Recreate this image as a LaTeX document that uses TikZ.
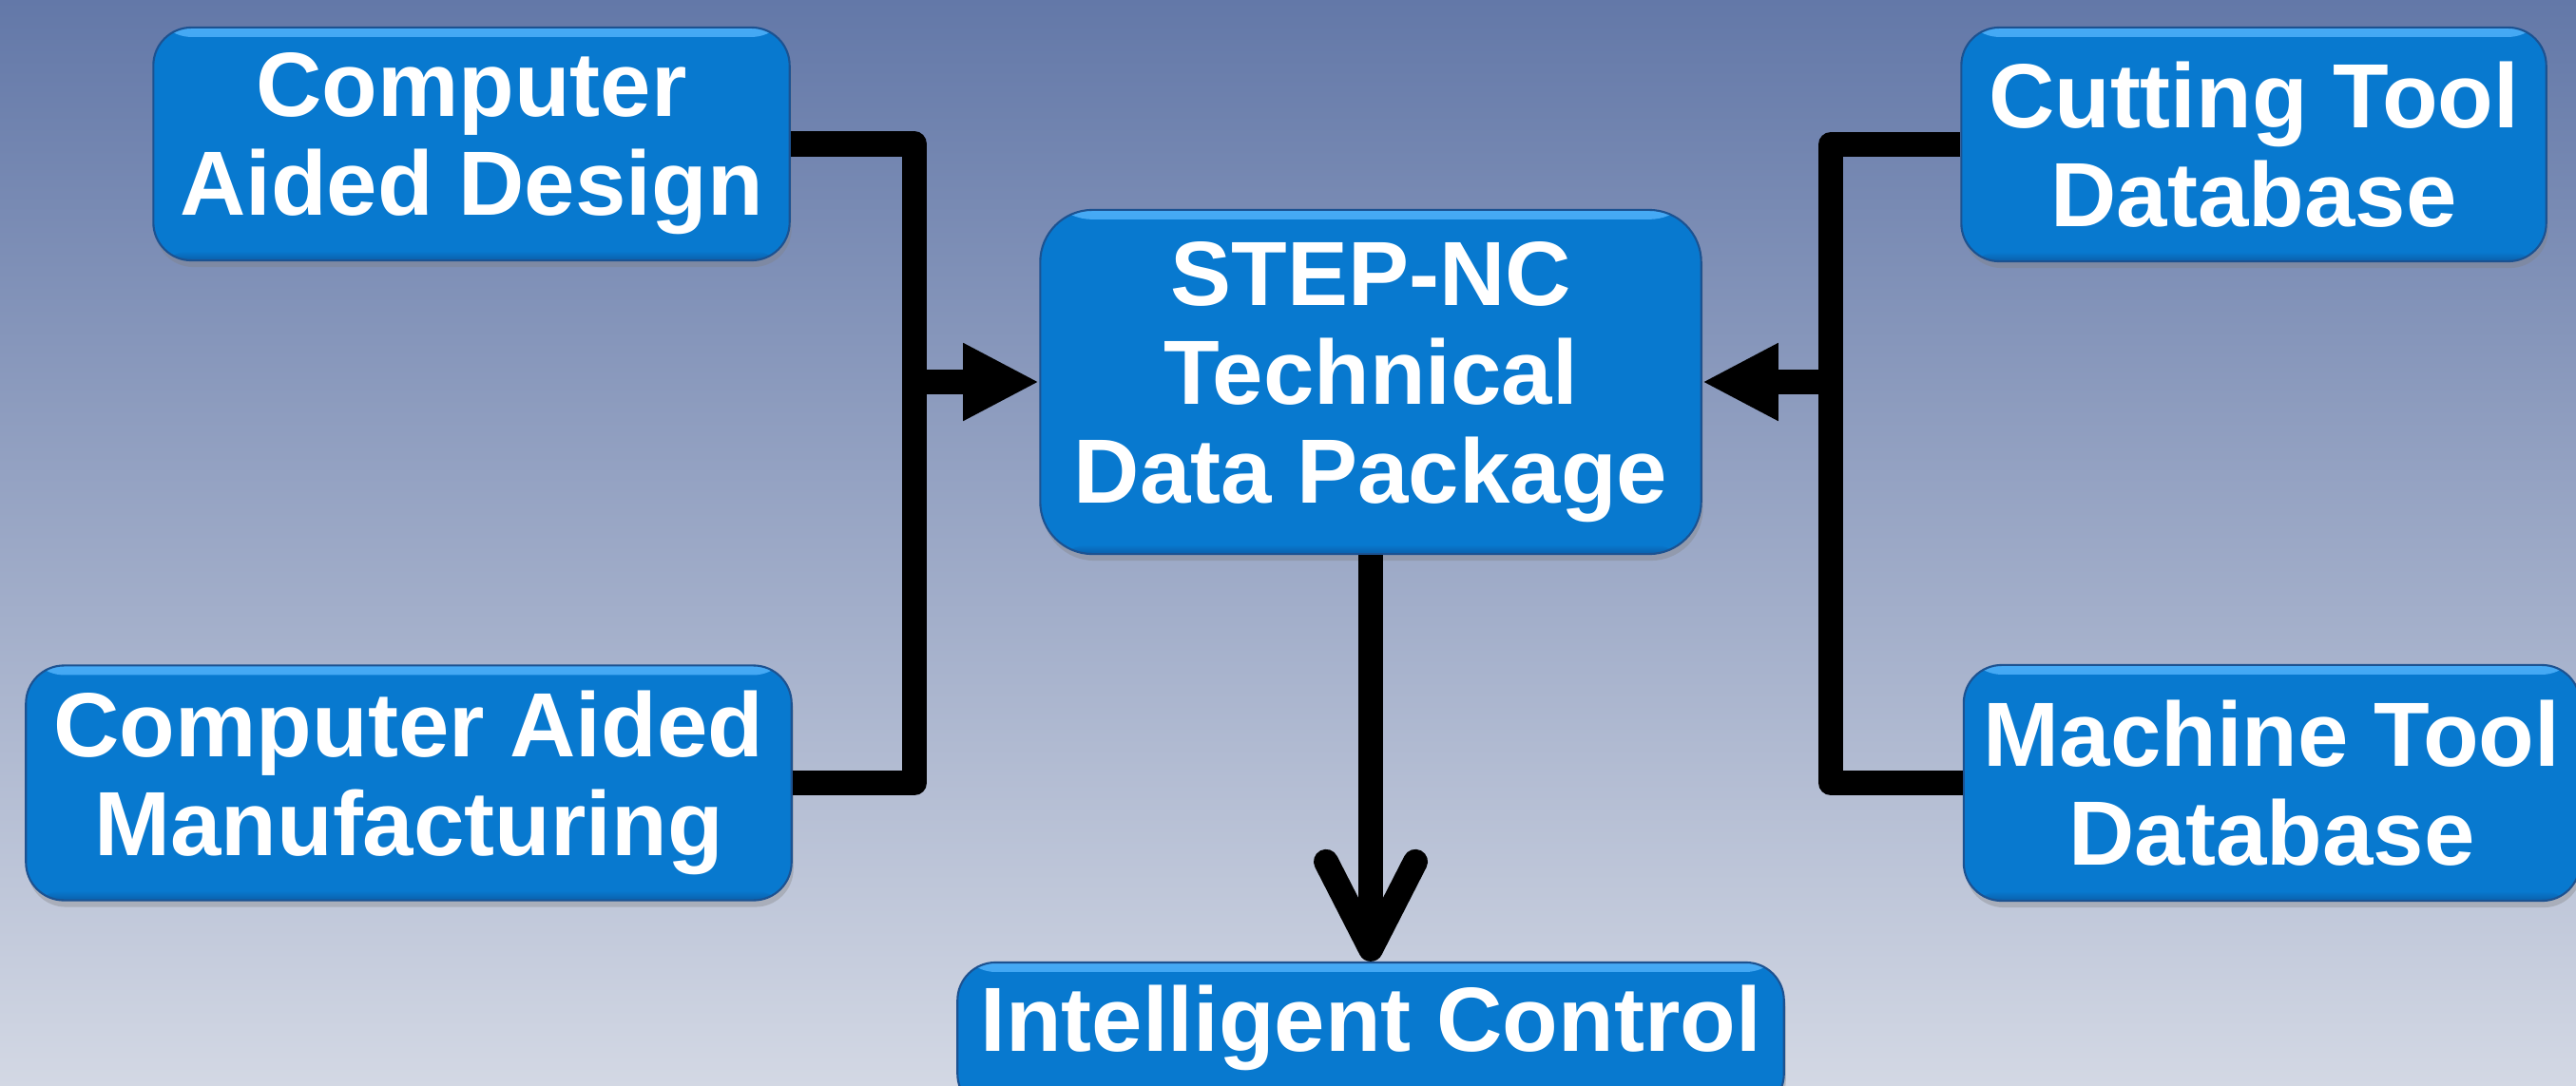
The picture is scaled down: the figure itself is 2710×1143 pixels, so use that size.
\documentclass[tikz,border=0pt]{standalone}
\usepackage{fontspec}
\setmainfont{Liberation Sans}
\usetikzlibrary{arrows.meta,shadows}
\definecolor{bgtop}{RGB}{99,120,168}
\definecolor{bgbot}{RGB}{211,216,228}
\definecolor{boxfill}{RGB}{8,121,207}
\definecolor{boxhi}{RGB}{70,170,245}
\definecolor{boxlo}{RGB}{10,95,170}
\definecolor{boxline}{RGB}{28,82,145}
\tikzset{
  box/.style={draw=boxline, line width=0.6pt, fill=boxfill, rounded corners=0.4cm,
    text=white, align=center, inner sep=0pt,
    font=\fontsize{27.3}{29.6}\selectfont\bfseries,
    drop shadow={opacity=0.35, shadow xshift=0.02cm, shadow yshift=-0.07cm},
    path picture={
      \shade[top color=boxhi, bottom color=boxfill]
        (path picture bounding box.north west) rectangle
        ([yshift=-0.1cm]path picture bounding box.north east);
      \shade[top color=boxfill, bottom color=boxlo]
        ([yshift=0.1cm]path picture bounding box.south west) rectangle
        (path picture bounding box.south east);
    }},
  conn/.style={line width=0.26cm, line join=round},
  inarrow/.style={conn, -{Triangle[length=0.8cm,width=0.76cm]}},
  outarrow/.style={conn, -{Straight Barb[length=0.92cm,width=0.94cm,round]}},
}
\begin{document}
\begin{tikzpicture}[x=0.01cm,y=-0.01cm]
\useasboundingbox (0,0) rectangle (2710,1143);
\shade[top color=bgtop, bottom color=bgbot] (0,0) rectangle (2710,1143);

\node[box, minimum width=6.69cm, minimum height=2.45cm] (cad) at (496,151.5) {Computer\\Aided Design};
\node[box, minimum width=8.05cm, minimum height=2.47cm] (cam) at (430,824) {Computer Aided\\Manufacturing};
\node[box, minimum width=6.95cm, minimum height=3.62cm, rounded corners=0.55cm] (step) at (1442,402) {STEP-NC\\Technical\\Data Package};
\node[box, minimum width=6.15cm, minimum height=2.46cm] (cut) at (2371,152) {Cutting Tool\\Database};
\node[box, minimum width=6.48cm, minimum height=2.48cm] (mach) at (2390,824) {Machine Tool\\Database};
\node[box, minimum width=8.69cm, minimum height=1.57cm, text depth=0.4cm] (ic) at (1442,1091.5) {Intelligent Control};

\coordinate (jl) at (962,402);
\coordinate (jr) at (1926,402);

\draw[conn] (cad.east) -| (jl) |- (cam.east);
\draw[conn] (cut.west) -| (jr) |- (mach.west);
\draw[inarrow] (jl) -- (step.west);
\draw[inarrow] (jr) -- (step.east);
\draw[outarrow] (step.south) -- (ic.north);
\end{tikzpicture}
\end{document}
